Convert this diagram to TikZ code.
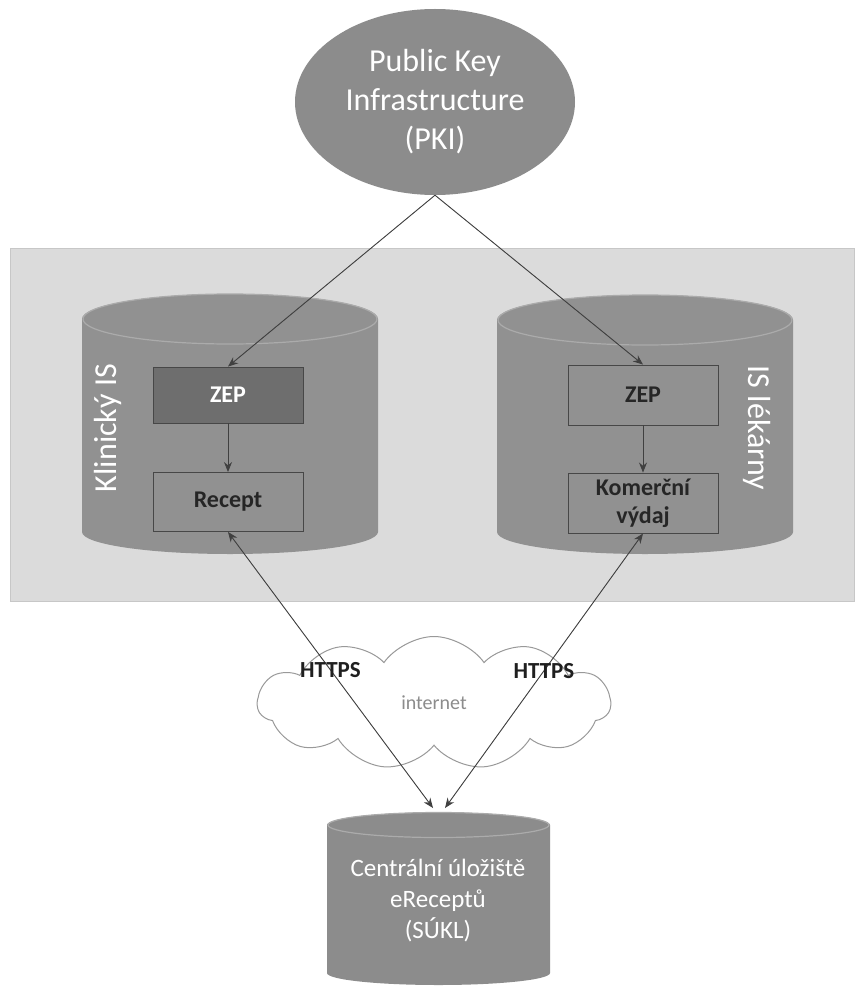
\documentclass[tikz,border=0pt]{standalone}
\usepackage{fontspec}
\setmainfont{Carlito}
\usetikzlibrary{shapes,arrows.meta}

\begin{document}
\begin{tikzpicture}[x=1pt,y=-1pt,
  box/.style={draw=black!72, line width=0.9pt, minimum width=150pt, inner sep=1pt, align=center, text=black!85, font=\fontsize{24}{28}\selectfont\bfseries},
  arr/.style={-{Stealth[length=10pt,width=8pt]}, line width=0.9pt, draw=black!75, fill=black!75},
  darr/.style={{Stealth[length=10pt,width=8pt]}-{Stealth[length=10pt,width=8pt]}, line width=0.9pt, draw=black!75, fill=black!75},
  side/.style={text=white, font=\fontsize{32}{38}\selectfont},
  https/.style={text=black!88, font=\fontsize{23}{27}\selectfont\bfseries}]
\useasboundingbox (0,0) rectangle (854,987);
\fill[white] (0,0) rectangle (854,987);
\draw[fill=black!14, draw=black!22, line width=1pt] (10,248) rectangle (854,601);
\fill[black!43] (82,319) -- (82,532) arc[start angle=180, end angle=360, x radius=148pt, y radius=22pt] -- (378,319) arc[start angle=0, end angle=180, x radius=148pt, y radius=25pt] -- cycle;
\draw[black!33, fill=black!43, line width=1.2pt] (230,319) ellipse[x radius=147pt, y radius=25pt];
\fill[black!43] (497,320) -- (497,532) arc[start angle=180, end angle=360, x radius=148pt, y radius=22pt] -- (793,320) arc[start angle=0, end angle=180, x radius=148pt, y radius=25pt] -- cycle;
\draw[black!33, fill=black!43, line width=1.2pt] (645,320) ellipse[x radius=147pt, y radius=25pt];
\node[side, rotate=90] (klin) at (108,428) {Klinický IS};
\node[side, rotate=-90] (lek) at (757,428) {IS lékárny};
\node[box, fill=black!57, text=white, minimum height=56pt] (zepL) at (228,395) {ZEP};
\node[box, minimum height=59pt] (recept) at (228,502) {Recept};
\node[box, minimum height=60pt] (zepR) at (643,395) {ZEP};
\node[box, minimum height=60pt] (komer) at (643,503) {Komerční\\výdaj};
\node[ellipse, fill=black!45, inner sep=0pt, minimum width=280pt, minimum height=186pt, align=center, text=white, font=\fontsize{32}{39}\selectfont] (pki) at (435,102) {Public Key\\Infrastructure\\(PKI)};
\node[cloud, draw=black!40, fill=white, line width=1pt, cloud puffs=11, cloud puff arc=110, aspect=2.65, inner sep=0pt, minimum width=353pt, minimum height=133pt, text=black!45, font=\fontsize{20}{24}\selectfont] (net) at (434,703) {internet};
\fill[black!45] (327,825) -- (327,973) arc[start angle=180, end angle=360, x radius=111.5pt, y radius=12pt] -- (550,825) arc[start angle=0, end angle=180, x radius=111.5pt, y radius=12.5pt] -- cycle;
\draw[black!33, fill=black!45, line width=1.2pt] (438.5,825) ellipse[x radius=110.5pt, y radius=12.5pt];
\node[align=center, text=white, font=\fontsize{25}{31}\selectfont] (sukl) at (438,901) {Centrální úložiště\\eReceptů\\(SÚKL)};
\coordinate (suklL) at (433,808);
\coordinate (suklR) at (445,808);
\draw[arr] (pki.south) -- (zepL.north);
\draw[arr] (pki.south) -- (zepR.north);
\draw[arr] (zepL) -- (recept);
\draw[arr] (zepR) -- (komer);
\draw[darr] (recept.south) -- node[https]{HTTPS} (suklL);
\draw[darr] (komer.south) -- node[https]{HTTPS} (suklR);
\end{tikzpicture}
\end{document}
